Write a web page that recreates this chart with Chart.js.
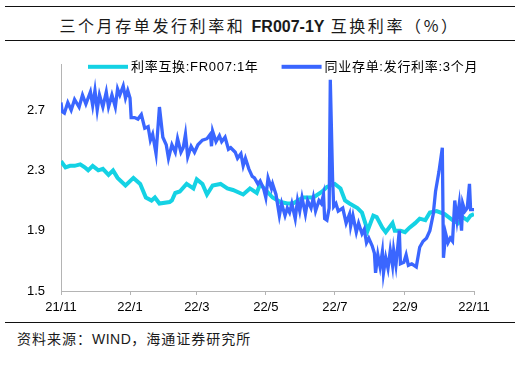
<!DOCTYPE html>
<html>
<head>
<meta charset="utf-8">
<script src="https://cdn.jsdelivr.net/npm/chart.js@4.4.1/dist/chart.umd.min.js"></script>
<style>
  body { margin: 0; width: 521px; height: 365px; background: #fff; position: relative; overflow: hidden; }
  .rule { position: absolute; left: 5px; width: 510px; height: 0; border-top: 1px solid #111; }
  #title { position: absolute; left: 0; width: 519px; top: 16px; text-align: center; font: 16px "Noto Sans CJK SC", sans-serif; line-height: 18px; letter-spacing: 2.6px; color: #1a1a1a; }
  #title b { font-family: "Liberation Sans", Arial, sans-serif; letter-spacing: 0; }
  #source { position: absolute; left: 17px; top: 330px; font: 14px "Noto Sans CJK SC", sans-serif; line-height: 16px; letter-spacing: 1px; color: #1a1a1a; }
  #source span { font-family: "Liberation Sans", Arial, sans-serif; letter-spacing: 0.5px; }
  #wrap { position: absolute; left: 0; top: 41px; width: 521px; height: 281px; }
</style>
</head>
<body>
<div class="rule" style="top:6px"></div>
<div id="title">三个月存单发行利率和 <b>FR007-1Y</b> 互换利率（%）</div>
<div class="rule" style="top:40px"></div>
<div id="wrap"><canvas id="myChart" width="521" height="281"></canvas></div>
<div class="rule" style="top:322px"></div>
<div id="source">资料来源：<span>WIND</span>，海通证券研究所</div>

<script>
// days counted from 2021-11-01
const tickDays = [0, 61, 120, 181, 242, 304, 365];
const tickLabels = ['21/11', '22/1', '22/3', '22/5', '22/7', '22/9', '22/11'];
const yTicks = [1.5, 1.9, 2.3, 2.7];

const swapName = '利率互换:FR007:1年';
const swapDays = [0,4,8,12,17,21,24,28,33,37,42,46,50,57,64,70,75,80,83,87,96,98,101,105,111,117,120,125,129,134,141,147,152,161,167,173,176,187,194,200,205,214,223,231,235,242,247,251,255,262,266,271,276,279,284,287,293,295,300,304,308,313,317,322,326,332,339,346,351,355,359,362,365];
const swapRates = [2.36,2.32,2.33,2.33,2.34,2.32,2.30,2.33,2.30,2.31,2.27,2.30,2.25,2.20,2.25,2.21,2.12,2.10,2.12,2.08,2.09,2.10,2.15,2.16,2.21,2.18,2.24,2.21,2.14,2.20,2.21,2.18,2.17,2.14,2.18,2.15,2.21,2.12,2.09,2.08,2.08,2.12,2.12,2.16,2.19,2.21,2.18,2.10,2.08,2.05,2.02,1.90,2.00,1.99,1.92,1.89,1.95,1.90,1.90,1.89,1.92,1.95,1.98,1.97,2.02,2.03,2.01,1.97,1.95,1.99,1.97,2.00,2.01];

const ncdName = '同业存单:发行利率:3个月';
const ncdDays = [0,1,3,6,9,12,16,19,22,26,28,30,32,34,37,40,42,45,48,50,52,55,57,59,61,62,65,68,71,74,77,79,81,84,87,90,93,95,98,101,103,106,108,110,112,115,118,121,125,129,132,133,134,137,140,142,145,148,150,154,156,159,161,163,166,169,171,174,176,179,181,183,186,187,190,193,195,198,200,202,204,207,209,211,213,216,218,221,223,225,228,230,232,233,235,237,238,240,241,243,245,247,249,252,255,256,258,261,263,266,268,270,272,275,277,278,280,282,284,285,287,289,291,293,294,296,299,300,303,305,307,310,314,317,320,323,326,329,331,334,337,338,340,342,344,346,348,350,352,354,355,357,359,361,362,365];
const ncdRates = [2.75,2.69,2.68,2.75,2.70,2.77,2.72,2.80,2.74,2.82,2.73,2.83,2.70,2.80,2.72,2.82,2.72,2.80,2.72,2.84,2.80,2.86,2.78,2.83,2.78,2.65,2.65,2.64,2.67,2.58,2.59,2.50,2.54,2.41,2.72,2.52,2.47,2.38,2.47,2.42,2.51,2.42,2.45,2.54,2.39,2.46,2.42,2.47,2.50,2.51,2.54,2.46,2.56,2.49,2.53,2.49,2.52,2.44,2.45,2.42,2.38,2.41,2.33,2.38,2.31,2.26,2.25,2.21,2.23,2.18,2.12,2.25,2.18,2.21,2.14,2.00,2.08,2.00,2.05,2.02,2.08,1.98,2.10,2.03,2.12,2.01,2.10,2.05,2.12,2.03,2.10,2.08,2.14,1.98,1.97,2.05,2.90,2.25,2.06,2.08,2.03,2.04,2.05,1.95,2.01,1.93,2.00,1.89,1.95,1.88,1.91,1.82,1.85,1.80,1.75,1.62,1.74,1.66,1.76,1.62,1.72,1.65,1.77,1.67,1.77,1.67,1.90,1.68,1.69,1.74,1.67,1.68,1.66,1.79,1.83,1.85,1.90,2.01,2.16,2.29,2.45,1.72,1.88,1.82,1.85,1.83,2.10,1.97,2.08,1.90,2.08,2.03,2.05,2.21,2.04,2.04];

const cyan = '#14D2E4';
const blue = '#3A66FF';
const axisGrey = '#B4B4B4';
const tickFont = { family: '"Liberation Sans", Arial, sans-serif', size: 13 };

function pairs(xs, ys) {
  return xs.map((d, i) => ({ x: d, y: ys[i] }));
}

// one-row legend over the top edge of the plot (built-in one kept wrapping)
const lineLegend = {
  id: 'lineLegend',
  afterDatasetsDraw(chart) {
    const c = chart.ctx;
    const area = chart.chartArea;
    let x = area.left + 27;
    const y = area.top + 2;
    c.save();
    c.font = '13px "Liberation Sans", "Noto Sans CJK SC", sans-serif';
    c.letterSpacing = '0.7px';
    c.textBaseline = 'middle';
    chart.data.datasets.forEach(ds => {
      c.fillStyle = ds.borderColor;
      c.fillRect(x, y - 2, 40, 4);
      x += 43;
      c.fillStyle = '#000';
      c.fillText(ds.label, x, y + 1);
      x += c.measureText(ds.label).width + 23;
    });
    c.restore();
  }
};

var ctx = document.getElementById('myChart').getContext('2d');
var chart = new Chart(ctx, {
  type: 'line',
  data: {
    datasets: [
      {
        label: swapName,
        data: pairs(swapDays, swapRates),
        borderColor: cyan,
        backgroundColor: cyan,
        borderWidth: 4,
        pointRadius: 0,
        order: 1
      },
      {
        label: ncdName,
        data: pairs(ncdDays, ncdRates),
        borderColor: blue,
        backgroundColor: blue,
        borderWidth: 3.3,
        pointRadius: 0,
        order: 0
      }
    ]
  },
  options: {
    responsive: false,
    animation: false,
    layout: { padding: { left: 0, right: 47, top: 22, bottom: 0 } },
    scales: {
      x: {
        type: 'linear',
        min: 0,
        max: 365,
        afterBuildTicks: (s) => { s.ticks = tickDays.map(v => ({ value: v })); },
        afterFit: (s) => { s.height = 31; },
        ticks: {
          autoSkip: false,
          maxRotation: 0,
          padding: 5,
          color: '#000',
          font: tickFont,
          callback: (v, i) => tickLabels[i]
        },
        grid: { display: true, drawOnChartArea: false, drawTicks: true, tickLength: 4, color: axisGrey },
        border: { display: true, color: axisGrey, width: 1 }
      },
      y: {
        min: 1.5,
        max: 3.0,
        afterBuildTicks: (s) => { s.ticks = yTicks.map(v => ({ value: v })); },
        afterFit: (s) => { s.width = 61; },
        ticks: {
          padding: 16,
          color: '#000',
          font: tickFont,
          callback: (v) => Number(v).toFixed(1)
        },
        grid: { display: false, drawTicks: false },
        border: { display: true, color: axisGrey, width: 1 }
      }
    },
    plugins: {
      tooltip: { enabled: false },
      legend: { display: false }
    }
  },
  plugins: [lineLegend]
});
</script>
</body>
</html>
